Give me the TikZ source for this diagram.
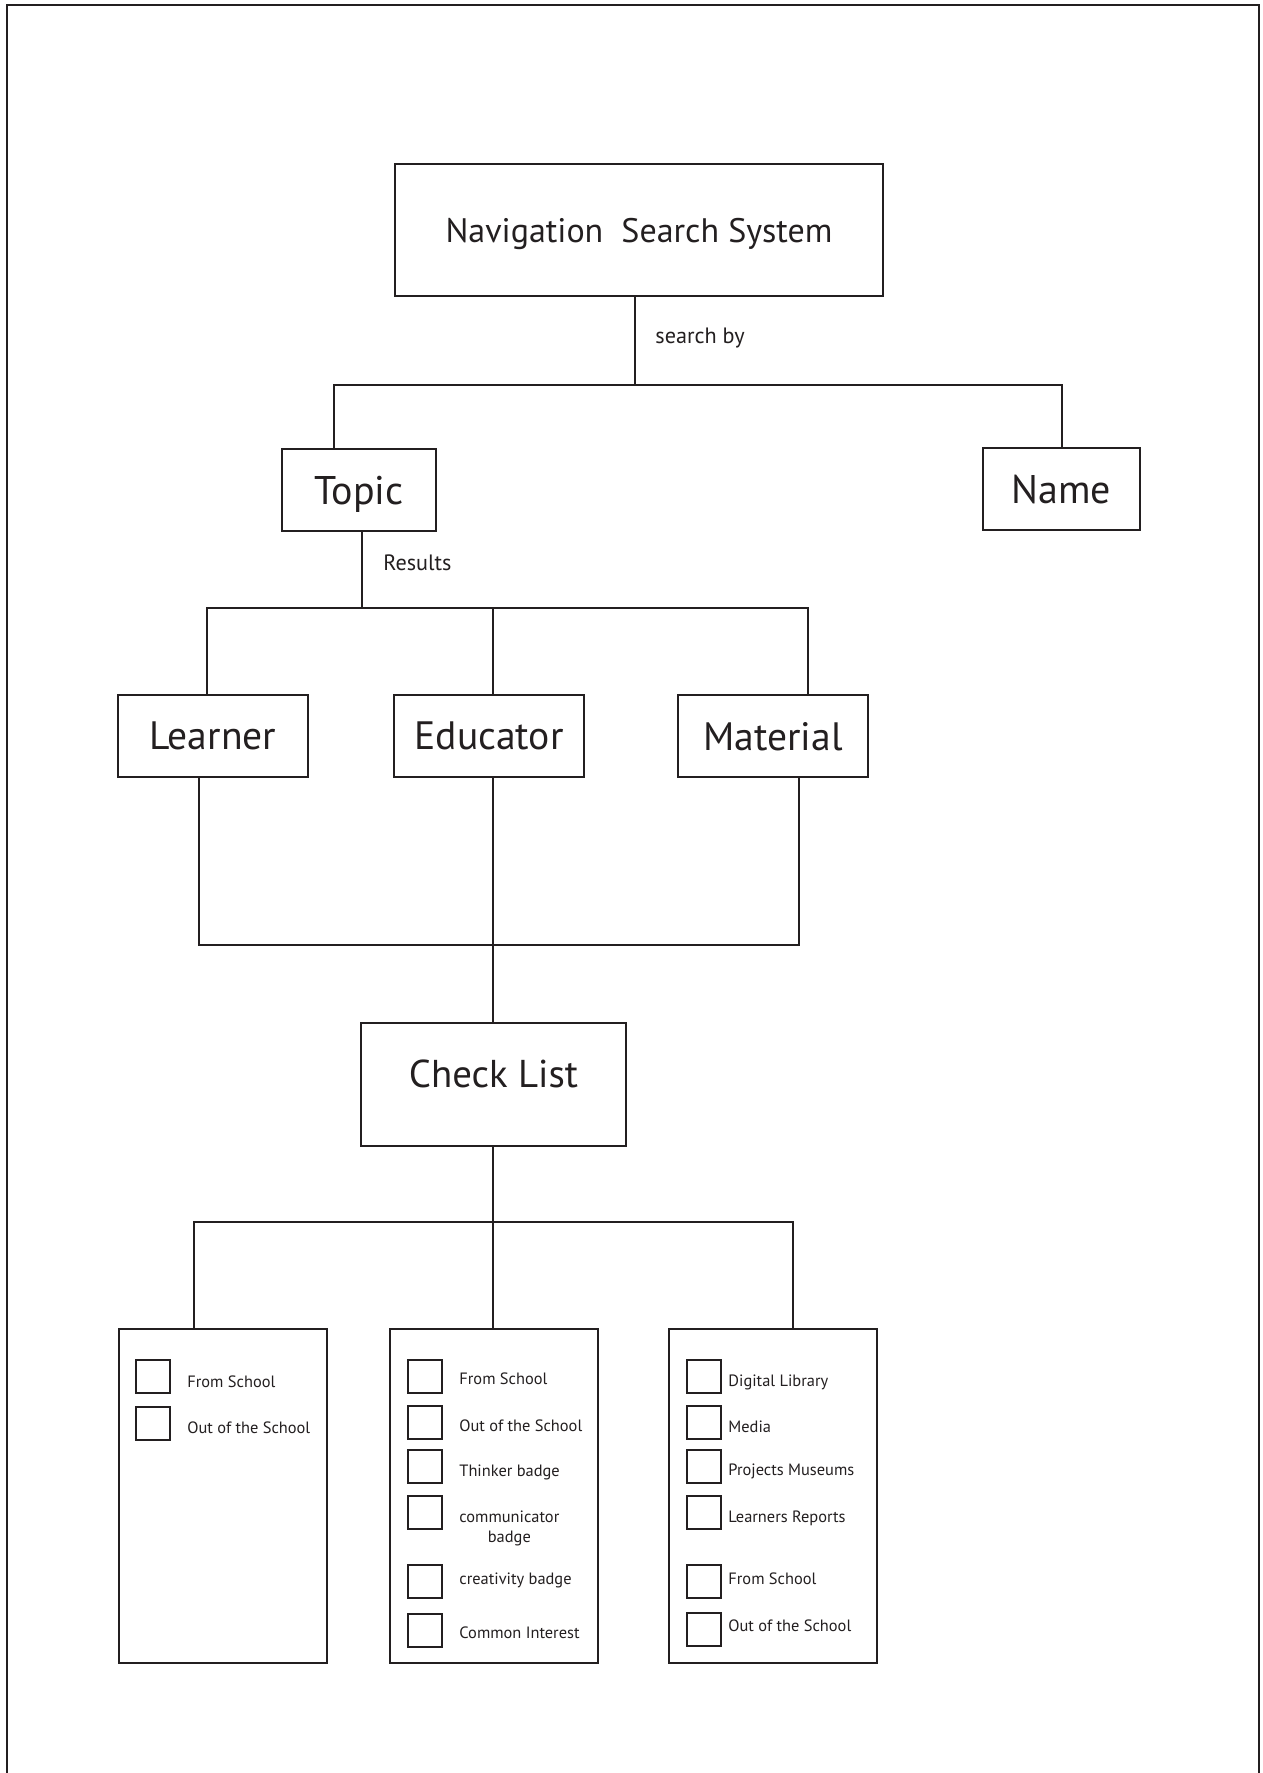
\documentclass[tikz,border=0pt]{standalone}
\usepackage{fontspec}
\setmainfont{PT Sans}
\definecolor{inkc}{HTML}{231F20}
\begin{document}
\begin{tikzpicture}[x=0.5pt,y=-0.5pt,
  ink/.style={draw=inkc, line width=1pt},
  box/.style={ink, rectangle, inner sep=0pt, text=inkc, text depth=0pt},
  bigbox/.style={box, font=\fontsize{20}{24}\selectfont},
  midbox/.style={box, font=\fontsize{19.8}{24}\selectfont},
  listbox/.style={ink, rectangle, inner sep=0pt, minimum width=104pt, minimum height=167pt},
  tick/.style={ink, rectangle, inner sep=0pt, minimum width=17pt, minimum height=16.5pt},
  entry/.style={anchor=base west, inner sep=0pt, text=inkc, font=\fontsize{8.2}{10}\selectfont},
  tag/.style={anchor=base west, inner sep=0pt, text=inkc, font=\fontsize{11.1}{13}\selectfont},
  wire/.style={draw=inkc, line width=1pt}
]
\useasboundingbox (0,0) rectangle (1263,1773);
\fill[white] (0,0) rectangle (1263,1773);

% page frame, open at the bottom edge
\draw[ink, line width=1.2pt] (7,1800) -- (7,5) -- (1259,5) -- (1259,1800);

% main boxes
\node[box, font=\fontsize{17}{20}\selectfont, minimum width=244pt, minimum height=66pt] (nss) at (639,230) {Navigation\ \ Search System};
\node[bigbox, minimum width=77pt, minimum height=41pt] (topic) at (359,490) {Topic};
\node[bigbox, minimum width=78.5pt, minimum height=41pt] (name) at (1061.5,489) {Name};
\node[midbox, minimum width=95pt, minimum height=41pt] (learner) at (213,736) {Learner};
\node[midbox, minimum width=95pt, minimum height=41pt] (educator) at (489,736) {Educator};
\node[midbox, minimum width=95pt, minimum height=41pt] (material) at (773,736) {Material};
\node[box, font=\fontsize{19.4}{24}\selectfont, minimum width=132.5pt, minimum height=61.5pt, text depth=10.5pt] (checklist) at (493.5,1084.5) {Check List};

% connector labels
\node[tag] (searchby) at (655,343) {search by};
\node[tag] (results) at (383,570) {Results};

% search by: fan out to Topic and Name
\coordinate (sb) at (635,385);
\coordinate (sbL) at (334,385);
\coordinate (sbR) at (1062,385);
\draw[wire] (nss.south -| sb) -- (sb);
\draw[wire] (topic.north -| sbL) -- (sbL) -- (sbR) -- (name.north -| sbR);

% results: fan out to Learner, Educator, Material
\coordinate (rs) at (362,608);
\coordinate (rsL) at (207,608);
\coordinate (rsM) at (493,608);
\coordinate (rsR) at (808,608);
\draw[wire] (topic.south -| rs) -- (rs);
\draw[wire] (learner.north -| rsL) -- (rsL) -- (rsR) -- (material.north -| rsR);
\draw[wire] (educator.north -| rsM) -- (rsM);

% merge into the check list
\coordinate (mL) at (199,945);
\coordinate (mM) at (493,945);
\coordinate (mR) at (799,945);
\draw[wire] (learner.south -| mL) -- (mL) -- (mR) -- (material.south -| mR);
\draw[wire] (educator.south -| mM) -- (checklist.north -| mM);

% check list panels
\node[listbox] (list1) at (222.5,1496) {};
\node[listbox] (list2) at (494,1496) {};
\node[listbox] (list3) at (773,1496) {};

\coordinate (cL) at (194,1222);
\coordinate (cM) at (493,1222);
\coordinate (cR) at (793,1222);
\draw[wire] (checklist.south -| cM) -- (cM);
\draw[wire] (list1.north -| cL) -- (cL) -- (cR) -- (list3.north -| cR);
\draw[wire] (list2.north -| cM) -- (cM);

% panel 1: learner
\node[tick] (a1) at (153,1376.5) {};
\node[tick] (a2) at (153,1423.5) {};
\node[entry] (ta1) at (187,1387) {From School};
\node[entry] (ta2) at (187,1433) {Out of the School};

% panel 2: educator
\node[tick] (b1) at (425,1376.5) {};
\node[tick] (b2) at (425,1422.5) {};
\node[tick] (b3) at (425,1466.5) {};
\node[tick] (b4) at (425,1512.5) {};
\node[tick] (b5) at (425,1581.5) {};
\node[tick] (b6) at (425,1630.5) {};
\node[entry] (tb1) at (459,1384) {From School};
\node[entry] (tb2) at (459,1431) {Out of the School};
\node[entry] (tb3) at (459,1476) {Thinker badge};
\node[entry, anchor=west, align=center] (tb4) at (459,1528) {communicator\\badge};
\node[entry] (tb5) at (459,1584) {creativity badge};
\node[entry] (tb6) at (459,1638) {Common Interest};

% panel 3: material
\node[tick] (c1) at (704,1376) {};
\node[tick] (c2) at (704,1422.5) {};
\node[tick] (c3) at (704,1466) {};
\node[tick] (c4) at (704,1512.5) {};
\node[tick] (c5) at (704,1581.5) {};
\node[tick] (c6) at (704,1629.5) {};
\node[entry] (tc1) at (728,1386) {Digital Library};
\node[entry] (tc2) at (728,1432) {Media};
\node[entry] (tc3) at (728,1475) {Projects Museums};
\node[entry] (tc4) at (728,1522) {Learners Reports};
\node[entry] (tc5) at (728,1584) {From School};
\node[entry] (tc6) at (728,1631) {Out of the School};
\end{tikzpicture}
\end{document}
